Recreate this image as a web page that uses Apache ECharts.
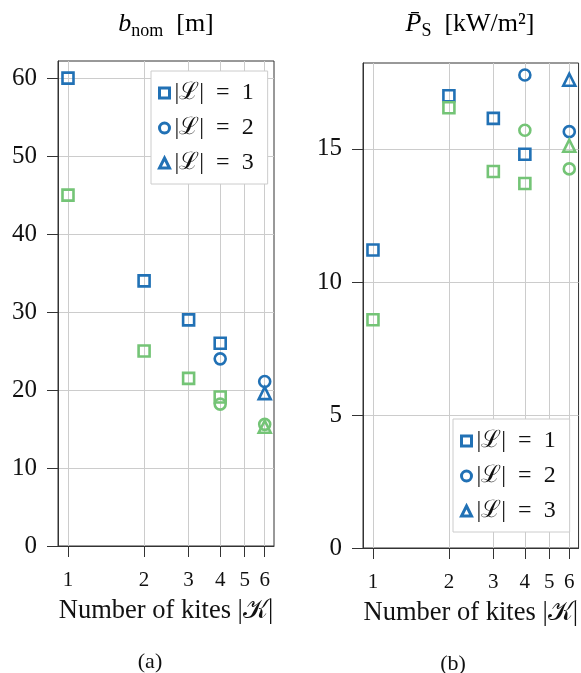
<!DOCTYPE html>
<html><head><meta charset="utf-8">
<script src="https://cdn.jsdelivr.net/npm/echarts@6/dist/echarts.min.js"></script>
<style>html,body{margin:0;padding:0;background:#fff}#c{width:581px;height:673px}</style>
</head><body><div id="c"></div>
<script>
// ---- data ----
const kitesTicks = [1, 2, 3, 4, 5, 6];
const bnomTicks = [0, 10, 20, 30, 40, 50, 60];
const powerTicks = [0, 5, 10, 15];
const legendNames = ['|ℒ|\u2002=\u20021', '|ℒ|\u2002=\u20022', '|ℒ|\u2002=\u20023'];
const kitesL1 = [1, 2, 3, 4];
const kitesL2 = [4, 6];
const kitesL3 = [6];
// (a) b_nom [m]
const bnomBlueL1 = [60, 34, 29, 26];
const bnomBlueL2 = [24, 21.1];
const bnomBlueL3 = [19.6];
const bnomGreenL1 = [45, 25, 21.5, 19.1];
const bnomGreenL2 = [18.2, 15.6];
const bnomGreenL3 = [15.3];
// (b) mean power density [kW/m^2]
const powBlueL1 = [11.2, 17.0, 16.15, 14.8];
const powBlueL2 = [17.78, 15.65];
const powBlueL3 = [17.6];
const powGreenL1 = [8.58, 16.55, 14.15, 13.7];
const powGreenL2 = [15.7, 14.25];
const powGreenL3 = [15.12];

// ---- style ----
const BLUE = '#2171b5', GREEN = '#74c476';
const SERIF = 'Liberation Serif';
const AX = '#333';

function zip(xs, ys) { return xs.map((x, i) => [x, ys[i]]); }
function sc(name, xs, ys, symbol, color, gi) {
  return {
    type: 'scatter', name, xAxisIndex: gi, yAxisIndex: gi,
    data: zip(xs, ys), symbol, symbolSize: symbol === 'triangle' ? 12 : 11,
    itemStyle: { color: 'rgba(255,255,255,0)', borderColor: color, borderWidth: 2.6, opacity: 1 },
    emphasis: { disabled: true }, animation: false, z: 3
  };
}
function xAx(gi) {
  return {
    type: 'log', gridIndex: gi, min: 0.913, max: 6.53, logBase: 10,
    axisLine: { show: true, onZero: false, lineStyle: { color: AX, width: 1 } },
    axisTick: { show: true, length: 11, customValues: kitesTicks, lineStyle: { color: AX } },
    axisLabel: { customValues: kitesTicks, margin: 24, fontSize: 21, color: '#111', fontFamily: SERIF, formatter: v => String(Math.round(v)) },
    splitLine: { show: true, lineStyle: { color: '#cccccc', width: 1 } },
    minorTick: { show: false }, minorSplitLine: { show: false },
    name: 'Number of kites |𝒦|', nameLocation: 'middle', nameGap: 52,
    nameTextStyle: { fontSize: 26.5, color: '#111', fontFamily: SERIF }
  };
}
function yAx(gi, max, interval, ticks) {
  return {
    type: 'value', gridIndex: gi, min: 0, max, interval,
    axisLine: { show: true, lineStyle: { color: AX, width: 1 } },
    axisTick: { show: true, length: 11, customValues: ticks, lineStyle: { color: AX } },
    axisLabel: { customValues: ticks, margin: 21, fontSize: 25, color: '#111', fontFamily: SERIF },
    splitLine: { show: true, lineStyle: { color: '#cccccc', width: 1 } }
  };
}
function lg(left, top) {
  return {
    data: legendNames, orient: 'vertical', left, top,
    padding: [10, 14, 9, 7], itemGap: 11, itemWidth: 10, itemHeight: 10,
    itemStyle: { borderWidth: 3 },
    backgroundColor: '#fff', borderColor: '#cccccc', borderWidth: 1, borderRadius: 0,
    textStyle: { fontSize: 24, lineHeight: 24, color: '#111', fontFamily: SERIF },
    selectedMode: false
  };
}
const titleRich = {
  i: { fontSize: 26, fontStyle: 'italic', fontFamily: SERIF, color: '#111', lineHeight: 32 },
  s: { fontSize: 18, fontFamily: SERIF, color: '#111', lineHeight: 17, verticalAlign: 'bottom' },
  r: { fontSize: 26, fontFamily: SERIF, color: '#111', lineHeight: 32 }
};

const chart = echarts.init(document.getElementById('c'), null, { renderer: 'canvas' });
chart.setOption({
  animation: false,
  backgroundColor: '#fff',
  grid: [
    { left: 58, top: 61, width: 216, height: 485, show: true, borderColor: AX, borderWidth: 1, backgroundColor: 'transparent' },
    { left: 363, top: 63, width: 216, height: 485, show: true, borderColor: AX, borderWidth: 1, backgroundColor: 'transparent' }
  ],
  xAxis: [xAx(0), xAx(1)],
  yAxis: [yAx(0, 62.2, 10, bnomTicks), yAx(1, 18.23, 5, powerTicks)],
  legend: [lg(151, 71), lg(453, 419)],
  series: [
    sc(legendNames[0], kitesL1, bnomBlueL1, 'rect', BLUE, 0),
    sc(legendNames[1], kitesL2, bnomBlueL2, 'circle', BLUE, 0),
    sc(legendNames[2], kitesL3, bnomBlueL3, 'triangle', BLUE, 0),
    sc('g1', kitesL1, bnomGreenL1, 'rect', GREEN, 0),
    sc('g2', kitesL2, bnomGreenL2, 'circle', GREEN, 0),
    sc('g3', kitesL3, bnomGreenL3, 'triangle', GREEN, 0),
    sc(legendNames[0], kitesL1, powBlueL1, 'rect', BLUE, 1),
    sc(legendNames[1], kitesL2, powBlueL2, 'circle', BLUE, 1),
    sc(legendNames[2], kitesL3, powBlueL3, 'triangle', BLUE, 1),
    sc('g1', kitesL1, powGreenL1, 'rect', GREEN, 1),
    sc('g2', kitesL2, powGreenL2, 'circle', GREEN, 1),
    sc('g3', kitesL3, powGreenL3, 'triangle', GREEN, 1)
  ],
  graphic: [
    { type: 'text', x: 166, y: 24, style: { text: '{i|b}{s|nom}{r|  [m]}', rich: titleRich, align: 'center', verticalAlign: 'middle' } },
    { type: 'text', x: 470, y: 24, style: { text: '{i|P\u0304}{s|S}{r|  [kW/m²]}', rich: titleRich, align: 'center', verticalAlign: 'middle' } },
    { type: 'text', x: 150, y: 662, style: { text: '(a)', font: '22px "Liberation Serif"', fill: '#111', align: 'center', verticalAlign: 'middle' } },
    { type: 'text', x: 453, y: 664, style: { text: '(b)', font: '22px "Liberation Serif"', fill: '#111', align: 'center', verticalAlign: 'middle' } }
  ]
});
</script>
</body></html>
